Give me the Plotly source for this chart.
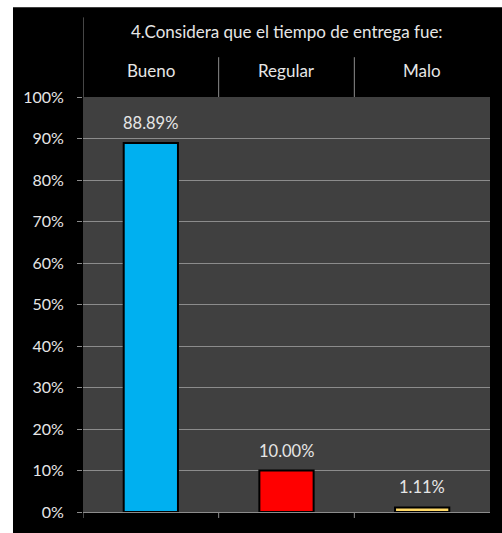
import plotly.graph_objects as go

# Survey results: perceived delivery time
categories = ["Bueno", "Regular", "Malo"]
values = [88.89, 10.00, 1.11]
bar_colors = ["#00B0F0", "#FF0000", "#FFD966"]
title_text = "4.Considera que el tiempo de entrega fue:"
y_ticks = list(range(0, 101, 10))
y_tick_labels = [f"{v}%" for v in y_ticks]

FONT = "Lato"
TEXT_COLOR = "#e6e6e6"
LINE_COLOR = "#8c8c8c"

# plot-area geometry in pixels (used to express paper-space offsets)
PLOT_H = 417

fig = go.Figure()
fig.add_trace(go.Bar(
    x=categories,
    y=values,
    marker=dict(color=bar_colors, line=dict(color="#000000", width=2)),
    width=0.4,
    hoverinfo="x+y",
))

shapes = [
    # black panel behind the whole chart
    dict(type="rect", xref="paper", yref="paper", x0=-0.172, x1=1.05, y0=-0.06, y1=1.216,
         fillcolor="#000000", line=dict(width=0), layer="below"),
    # dark grey plot area
    dict(type="rect", xref="paper", yref="paper", x0=0, x1=1, y0=0, y1=1,
         fillcolor="#404040", line=dict(width=0), layer="below"),
]

annotations = []
n = len(categories)
for i, cat in enumerate(categories):
    # header separators between category columns
    top = (514 - 17) / PLOT_H if i == 0 else (514 - 57) / PLOT_H
    shapes.append(dict(type="line", xref="x", yref="paper", x0=i - 0.5, x1=i - 0.5,
                       y0=1, y1=top, line=dict(color=LINE_COLOR, width=1)))
    # small tick marks under the baseline
    shapes.append(dict(type="line", xref="x", yref="paper", x0=i - 0.5, x1=i - 0.5,
                       y0=0, y1=-6 / PLOT_H, line=dict(color=LINE_COLOR, width=1)))
    # category header
    annotations.append(dict(x=cat, xref="x", y=(514 - 70) / PLOT_H, yref="paper",
                            text=cat, showarrow=False, yanchor="middle",
                            font=dict(family=FONT, size=17, color=TEXT_COLOR)))
    # value label above the bar
    annotations.append(dict(x=cat, xref="x", y=values[i], yref="y",
                            text=f"{values[i]:.2f}%", showarrow=False,
                            yanchor="middle", yshift=20,
                            font=dict(family=FONT, size=16.5, color=TEXT_COLOR)))

annotations.append(dict(x=0.5, xref="paper", y=(514 - 31) / PLOT_H, yref="paper",
                        text=title_text, showarrow=False, yanchor="middle",
                        font=dict(family=FONT, size=17, color=TEXT_COLOR)))

fig.update_layout(
    width=502,
    height=533,
    margin=dict(l=83, r=12, t=97, b=19),
    paper_bgcolor="#ffffff",
    plot_bgcolor="#404040",
    showlegend=False,
    shapes=shapes,
    annotations=annotations,
    xaxis=dict(
        type="category",
        range=[-0.5, n - 0.5],
        showticklabels=False,
        showgrid=False,
        zeroline=False,
        showline=False,
        ticks="",
        fixedrange=True,
    ),
    yaxis=dict(
        range=[0, 100],
        tickvals=y_ticks,
        ticktext=y_tick_labels,
        showgrid=True,
        gridcolor=LINE_COLOR,
        gridwidth=1,
        zeroline=True,
        zerolinecolor=LINE_COLOR,
        zerolinewidth=1,
        showline=False,
        ticks="outside",
        ticklen=5,
        tickcolor=LINE_COLOR,
        ticklabelstandoff=10,
        tickfont=dict(family=FONT, size=16, color=TEXT_COLOR),
        fixedrange=True,
    ),
)

fig.write_html("out.html")
